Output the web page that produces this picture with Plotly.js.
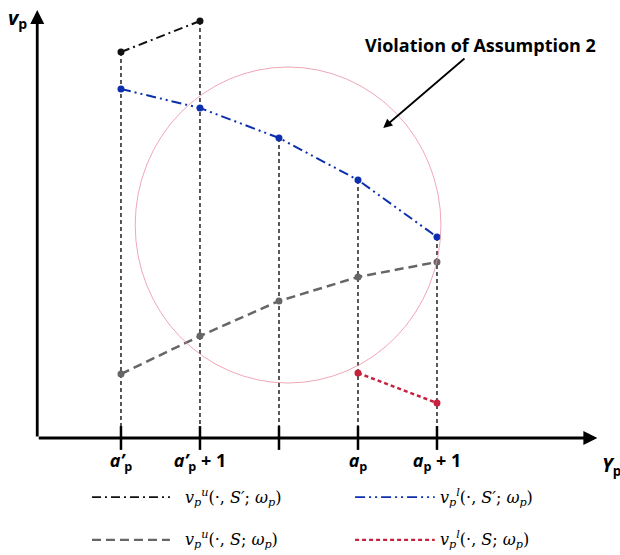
<!DOCTYPE html>
<html>
<head>
<meta charset="utf-8">
<script src="https://cdn.plot.ly/plotly-3.0.1.min.js"></script>
<style>body { margin: 0; background: #fff; }</style>
</head>
<body>
<div id="chart" style="width:620px;height:555px;"></div>
<script>
// positions along Y_p
const positions = [1, 2, 3, 4, 5];
const tickPositions = [1, 2, 4, 5];
const tickLabels = [
    '<b><i>a’</i><sub>p</sub></b>',
    '<b><i>a’</i><sub>p</sub> + 1</b>',
    '<b><i>a</i><sub>p</sub></b>',
    '<b><i>a</i><sub>p</sub> + 1</b>'
];

// v_p values
const upperSPrimeX = [1, 2];
const upperSPrime = [96.5, 104.25];
const lowerSPrimeX = [1, 2, 3, 4, 5];
const lowerSPrime = [87.25, 82.5, 75, 64.5, 50.25];
const upperSX = [1, 2, 3, 4, 5];
const upperS = [16, 25.5, 34.25, 40.25, 44];
const lowerSX = [4, 5];
const lowerS = [16.25, 8.75];

const seriesNames = [
    '<i>v</i><sub><i>p</i></sub><sup><i>u</i></sup>(·, <i>S′</i>; <i>ω</i><sub><i>p</i></sub>)',
    '<i>v</i><sub><i>p</i></sub><sup><i>l</i></sup>(·, <i>S′</i>; <i>ω</i><sub><i>p</i></sub>)',
    '<i>v</i><sub><i>p</i></sub><sup><i>u</i></sup>(·, <i>S</i>; <i>ω</i><sub><i>p</i></sub>)',
    '<i>v</i><sub><i>p</i></sub><sup><i>l</i></sup>(·, <i>S</i>; <i>ω</i><sub><i>p</i></sub>)'
];

const styles = [
    { color: '#111111', dash: '9px,4px,2px,4px', width: 2 },
    { color: '#0b2fae', dash: '10px,4px,2px,4px,2px,4px', width: 2 },
    { color: '#666666', dash: '9px,5px', width: 2.5 },
    { color: '#c8203f', dash: '4px,3px', width: 2.5 }
];

const seriesX = [upperSPrimeX, lowerSPrimeX, upperSX, lowerSX];
const seriesY = [upperSPrime, lowerSPrime, upperS, lowerS];

// vertical guide lines down from the highest point at each position
const traces = positions.map(p => {
    let top = 0;
    seriesX.forEach((xs, i) => {
        xs.forEach((x, j) => { if (x === p) top = Math.max(top, seriesY[i][j]); });
    });
    return {
        x: [p, p], y: [top, 0], type: 'scatter', mode: 'lines',
        line: { color: '#000', width: 1.3, dash: '4px,3px' },
        hoverinfo: 'skip', showlegend: false
    };
});

seriesX.forEach((xs, i) => {
    traces.push({
        x: xs, y: seriesY[i], type: 'scatter', mode: 'lines+markers',
        line: { color: styles[i].color, width: styles[i].width, dash: styles[i].dash },
        marker: { color: styles[i].color, size: 7 },
        showlegend: false
    });
});

// tick marks crossing the x axis
traces.push({
    x: positions, y: positions.map(() => 0), type: 'scatter', mode: 'markers',
    cliponaxis: false,
    marker: { symbol: 'line-ns-open', size: 17, color: '#000', line: { color: '#000', width: 2.5 } },
    hoverinfo: 'skip', showlegend: false
});

// hand-made legend (two columns)
const legendRows = [-0.138, -0.238];
const legendCols = [[0.098, 0.237], [0.567, 0.709]];
const legendTextX = [0.26, 0.715];
const shapes = [];
const annotations = [];
seriesNames.forEach((name, i) => {
    const row = Math.floor(i / 2), col = i % 2;
    shapes.push({
        type: 'line', xref: 'paper', yref: 'paper',
        x0: legendCols[col][0], x1: legendCols[col][1],
        y0: legendRows[row], y1: legendRows[row],
        line: { color: styles[i].color, width: i > 1 ? 2.2 : 1.8, dash: styles[i].dash }
    });
    annotations.push({
        xref: 'paper', yref: 'paper', x: legendTextX[col], y: legendRows[row],
        xanchor: 'left', yanchor: 'middle', showarrow: false, text: name,
        font: { family: 'DejaVu Serif', size: 16, color: '#000' }
    });
});

// circle marking the violation region
shapes.push({
    type: 'circle', xref: 'x', yref: 'y',
    x0: 1.18, x1: 5.05, y0: 13.75, y1: 92.75,
    line: { color: '#ec8fa3', width: 0.8 }
});

// axis arrows
annotations.push({
    xref: 'x', yref: 'y', axref: 'x', ayref: 'y',
    x: 7.03, y: 0, ax: -0.06, ay: 0, text: '', showarrow: true,
    arrowhead: 2, arrowsize: 1, arrowwidth: 2.8, arrowcolor: '#000'
});
annotations.push({
    xref: 'x', yref: 'y', axref: 'x', ayref: 'y',
    x: -0.06, y: 107, ax: -0.06, ay: 0, text: '', showarrow: true,
    arrowhead: 2, arrowsize: 1, arrowwidth: 2.8, arrowcolor: '#000'
});

// axis names
annotations.push({
    xref: 'paper', yref: 'paper', x: -0.035, y: 0.98, xanchor: 'center', yanchor: 'middle',
    showarrow: false, text: '<b><i>v</i><sub>p</sub></b>',
    font: { family: 'Open Sans', size: 20, color: '#000' }
});
annotations.push({
    xref: 'paper', yref: 'paper', x: 1.004, y: -0.065, xanchor: 'left', yanchor: 'middle',
    showarrow: false, text: '<b><i>Y</i><sub>p</sub></b>',
    font: { family: 'Open Sans', size: 19, color: '#000' }
});

// callout
annotations.push({
    xref: 'x', yref: 'y', x: 4.32, y: 77.5, ax: 97, ay: -83,
    text: '<b>Violation of Assumption 2</b>', showarrow: true,
    arrowhead: 2, arrowsize: 1, arrowwidth: 1.8, arrowcolor: '#000',
    font: { family: 'Open Sans', size: 18, color: '#000' }
});

const layout = {
    width: 620, height: 555,
    margin: { l: 37, r: 22, t: 10, b: 117 },
    paper_bgcolor: '#fff', plot_bgcolor: '#fff',
    showlegend: false,
    xaxis: {
        range: [-0.063, 7.038], showgrid: false, zeroline: false, showline: false,
        tickmode: 'array', tickvals: tickPositions, ticktext: tickLabels,
        ticks: '', ticklabelstandoff: 10,
        tickfont: { family: 'Open Sans', size: 18, color: '#000' }
    },
    yaxis: {
        range: [0, 107], showgrid: false, zeroline: false, showline: false,
        showticklabels: false, ticks: ''
    },
    shapes: shapes,
    annotations: annotations
};

Plotly.newPlot('chart', traces, layout, { displayModeBar: false, staticPlot: true });
</script>
</body>
</html>
